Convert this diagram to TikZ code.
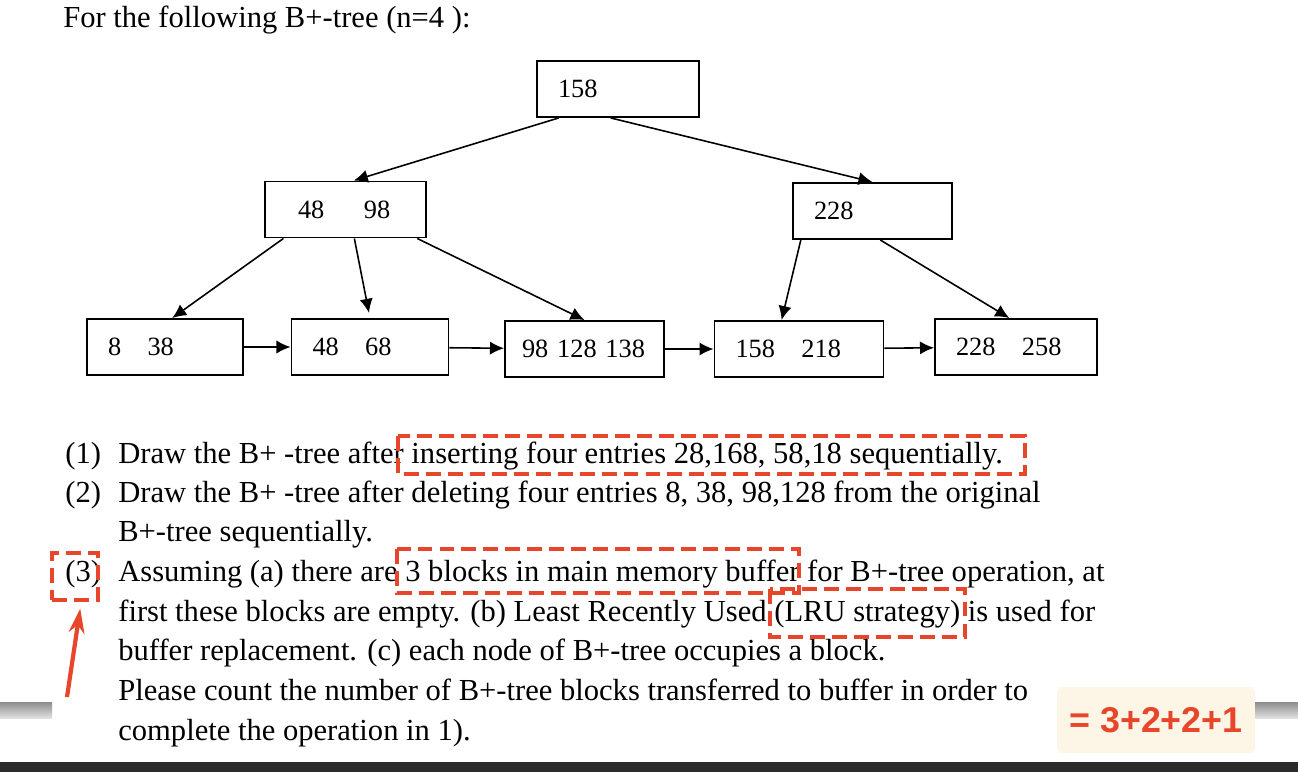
\documentclass[tikz,border=0pt]{standalone}
\usepackage{fontspec}
\setmainfont{Liberation Serif}
\newfontfamily\ansfont{Liberation Sans}
\usetikzlibrary{arrows.meta}
\definecolor{markred}{RGB}{232,70,42}
\definecolor{notecream}{RGB}{253,245,230}
\tikzset{
  blk/.style={draw, line width=1.1pt, minimum height=1.12cm, inner xsep=0.42cm, inner ysep=0pt,
    text width=#1, align=left, font=\fontsize{15}{18}\selectfont},
  txt/.style={anchor=base west, inner sep=0pt, font=\fontsize{17.4}{21}\selectfont},
  hilite/.style={draw=markred, line width=1.8pt, dash pattern=on 8.5pt off 4pt},
}
\begin{document}
\begin{tikzpicture}[x=0.02cm, y=-0.02cm]
  \useasboundingbox (0,0) rectangle (1298,772);
  \node[txt] (title) at (63,27) {For the following B+-tree (n=4 ):};
  % tree
  \node[blk=2.40cm] (root) at (618,89) {158};
  \node[blk=1.90cm, inner xsep=0.66cm] (in1) at (345.5,209.5) {48\hspace{1.5em}98};
  \node[blk=2.34cm] (in2) at (872.5,211) {228};
  \node[blk=2.28cm] (lf1) at (165,347) {8\quad 38};
  \node[blk=2.30cm] (lf2) at (370,347) {48\quad 68};
  \node[blk=2.50cm, inner xsep=0.34cm] (lf3) at (584.5,349) {98 128 138};
  \node[blk=2.54cm] (lf4) at (799,349) {158\quad 218};
  \node[blk=2.40cm] (lf5) at (1016,347) {228\quad 258};
  \begin{scope}[line width=0.9pt, ->, >={Latex[length=8pt,width=7.5pt]}]
    \draw (root.206) -- (in1.74);
    \draw (root.256) -- (in2.north);
    \draw (in1.205) -- (lf1.76);
    \draw[shorten >=3pt] (in1.287) -- (lf2.north);
    \draw (in1.338) -- (lf3.north);
    \draw (in2.202) -- (lf4.121);
    \draw (in2.285) -- (lf5.103);
    \draw (lf1) -- (lf2);
    \draw (lf2) -- (lf3);
    \draw (lf3) -- (lf4);
    \draw (lf4) -- (lf5);
  \end{scope}
  % questions
  \node[txt] (q1) at (65,463) {(1)};
  \node[txt] (t1) at (118,463) {Draw the B+ -tree after inserting four entries 28,168, 58,18 sequentially.};
  \node[txt] (q2) at (65,502) {(2)};
  \node[txt] (t2) at (118,502) {Draw the B+ -tree after deleting four entries 8, 38, 98,128 from the original};
  \node[txt] (t3) at (118,541) {B+-tree sequentially.};
  \node[txt] (q3) at (65,581) {(3)};
  \node[txt] (t4) at (118,581) {Assuming (a) there are 3 blocks in main memory buffer for B+-tree operation, at};
  \node[txt] (t5) at (118,621) {first these blocks are empty. (b) Least Recently Used (LRU strategy) is used for};
  \node[txt] (t6) at (118,660) {buffer replacement. (c) each node of B+-tree occupies a block.};
  \node[txt] (t7) at (118,700) {Please count the number of B+-tree blocks transferred to buffer in order to};
  \node[txt] (t8) at (118,740) {complete the operation in 1).};
  % marks
  \draw[hilite] (398,436) rectangle (1025,474);
  \draw[hilite] (397,549) rectangle (799,593);
  \draw[hilite] (770,589) rectangle (965,637);
  \node[hilite, inner sep=0pt, minimum width=0.92cm, minimum height=0.94cm] (box3) at (75,576.5) {};
  \coordinate (tail) at (67,697);
  \draw[markred, line width=2.4pt, -{Stealth[length=14pt,width=9pt]}, shorten >=4pt] (tail) -- (box3.-76);
  % screen bits
  \shade[top color=black!45, middle color=black!60, bottom color=black!12] (0,702) rectangle (52,718);
  \shade[top color=black!45, middle color=black!60, bottom color=black!12] (1255,702) rectangle (1298,718);
  \fill[black!83] (0,762) rectangle (1298,772);
  \node[fill=notecream, rounded corners=3.5pt, minimum width=3.96cm, minimum height=1.32cm, text=markred,
    font=\ansfont\bfseries\fontsize{20.4}{24}\selectfont] (ans) at (1156,720) {= 3+2+2+1};
\end{tikzpicture}
\end{document}
